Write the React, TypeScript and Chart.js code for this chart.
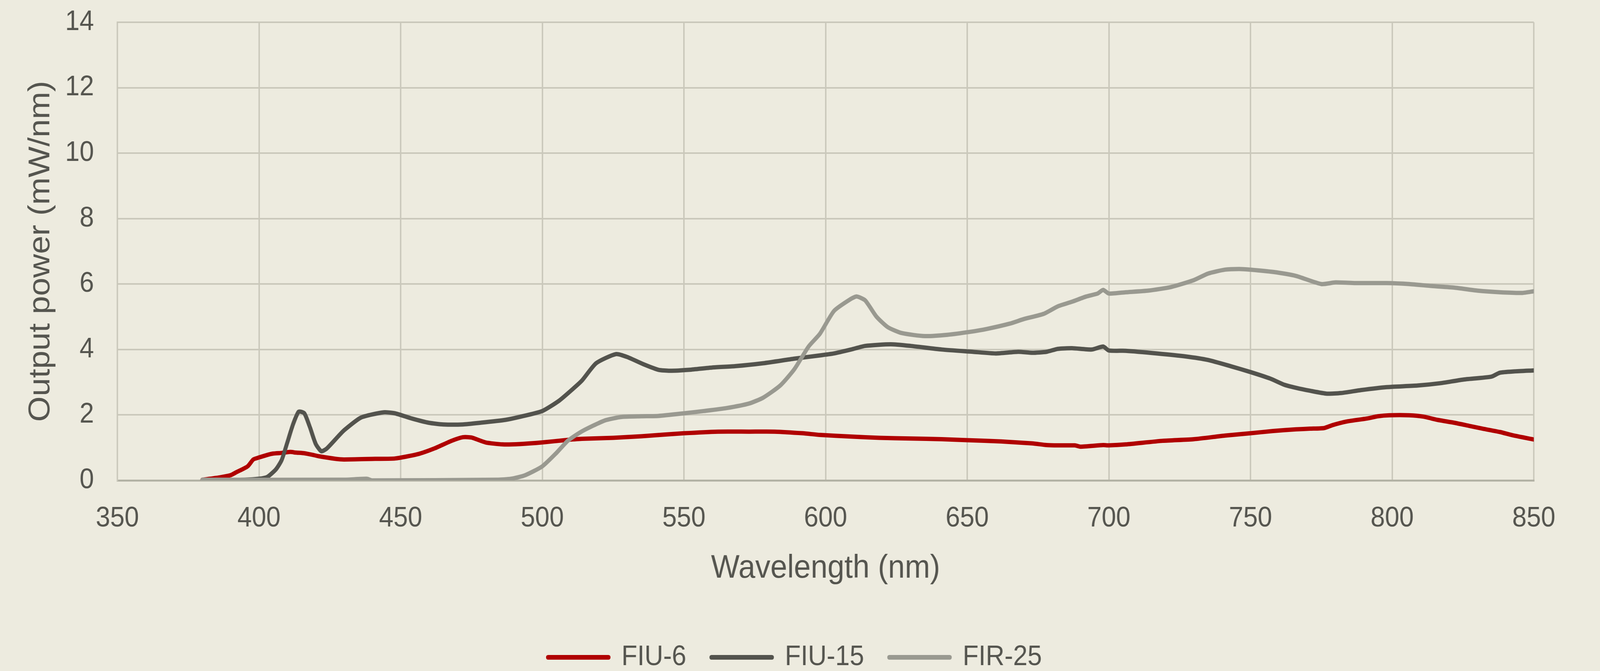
import React, { useEffect, useRef } from "react";
import { Chart, registerables } from "chart.js";

Chart.register(...registerables);

// Drawing surface in the reference's own pixel grid; shown stretched to the viewport.
const W = 4445;
const H = 1718;

const seriesNames = ["FIU-6", "FIU-15", "FIR-25"];
const seriesColors = ["#B00000", "#53534D", "#999990"];

const fiu6Wl = [380, 386, 390, 392, 396, 398, 400, 403, 405, 408, 411, 413, 416, 419, 421, 427, 430, 441, 448, 456, 462, 468, 472, 475, 480, 486, 492, 500, 508, 514, 525, 535, 550, 562, 573, 582, 592, 598, 609, 619, 630, 641, 650, 662, 673, 678, 682, 688, 690, 698, 700, 706, 719, 730, 741, 750, 758, 766, 771, 776, 779, 784, 791, 795, 799, 806, 811, 816, 822, 827, 832, 838, 843, 850];
const fiu6Val = [0.02, 0.09, 0.16, 0.25, 0.43, 0.64, 0.70, 0.78, 0.82, 0.84, 0.87, 0.85, 0.83, 0.78, 0.74, 0.66, 0.64, 0.66, 0.67, 0.80, 0.98, 1.21, 1.32, 1.31, 1.16, 1.10, 1.11, 1.16, 1.23, 1.27, 1.30, 1.35, 1.44, 1.49, 1.49, 1.49, 1.44, 1.39, 1.34, 1.30, 1.28, 1.26, 1.23, 1.19, 1.13, 1.08, 1.07, 1.07, 1.03, 1.08, 1.07, 1.10, 1.21, 1.26, 1.37, 1.44, 1.51, 1.56, 1.58, 1.60, 1.69, 1.80, 1.89, 1.96, 1.99, 1.99, 1.95, 1.85, 1.76, 1.67, 1.58, 1.48, 1.37, 1.25];

const fiu15Wl = [380, 395, 400, 403, 406, 408, 410, 412, 414, 416, 418, 420, 422, 424, 428, 430, 436, 444, 448, 454, 460, 465, 472, 478, 487, 492, 500, 506, 511, 514, 519, 526, 530, 536, 541, 545, 552, 560, 568, 578, 589, 598, 603, 609, 614, 623, 630, 641, 652, 660, 668, 673, 678, 682, 687, 694, 698, 700, 706, 717, 727, 735, 743, 750, 757, 762, 766, 771, 777, 782, 789, 798, 809, 817, 825, 835, 838, 843, 850];
const fiu15Val = [0.0, 0.02, 0.05, 0.11, 0.34, 0.62, 1.16, 1.71, 2.10, 2.05, 1.62, 1.12, 0.89, 0.98, 1.35, 1.53, 1.92, 2.08, 2.05, 1.89, 1.76, 1.71, 1.71, 1.76, 1.85, 1.94, 2.12, 2.44, 2.81, 3.05, 3.58, 3.86, 3.77, 3.54, 3.38, 3.35, 3.38, 3.45, 3.49, 3.58, 3.72, 3.82, 3.88, 4.00, 4.11, 4.16, 4.11, 4.00, 3.93, 3.88, 3.93, 3.90, 3.93, 4.02, 4.04, 4.00, 4.09, 3.97, 3.96, 3.88, 3.79, 3.68, 3.49, 3.31, 3.11, 2.92, 2.83, 2.74, 2.65, 2.67, 2.76, 2.85, 2.90, 2.97, 3.08, 3.17, 3.29, 3.33, 3.36];

const fir25Wl = [380, 430, 438, 440, 484, 489, 494, 500, 505, 509, 514, 522, 528, 535, 541, 550, 557, 565, 573, 578, 584, 589, 594, 598, 603, 609, 611, 614, 618, 622, 627, 635, 643, 651, 657, 665, 670, 677, 682, 687, 692, 696, 698, 700, 706, 714, 722, 730, 735, 741, 746, 750, 758, 766, 775, 780, 787, 798, 806, 814, 822, 830, 838, 846, 850];
const fir25Val = [0.02, 0.02, 0.05, 0.0, 0.02, 0.05, 0.16, 0.43, 0.84, 1.21, 1.50, 1.83, 1.94, 1.96, 1.97, 2.05, 2.12, 2.21, 2.35, 2.53, 2.90, 3.40, 4.09, 4.48, 5.18, 5.55, 5.62, 5.50, 5.00, 4.68, 4.50, 4.41, 4.45, 4.54, 4.63, 4.79, 4.93, 5.09, 5.32, 5.46, 5.62, 5.71, 5.82, 5.71, 5.75, 5.80, 5.91, 6.12, 6.32, 6.44, 6.46, 6.44, 6.37, 6.25, 6.00, 6.05, 6.03, 6.03, 6.00, 5.94, 5.89, 5.80, 5.75, 5.73, 5.78];

const xTitle = "Wavelength (nm)";
const yTitle = "Output power (mW/nm)";

const BG = "#EDEBDF";
const GRID = "#CAC8BB";
const AXIS = "#B3B2A5";
const TEXT = "#55554F";
const FONT = "'Liberation Sans', Arial, sans-serif";

const toPoints = (xs: number[], ys: number[]) => xs.map((x, i) => ({ x, y: ys[i] }));

const shiftLegend = {
  id: "shiftLegend",
  afterLayout(chart: any) {
    const l = chart.legend;
    if (l) {
      l.left += 78;
      l.right += 78;
    }
  },
};

export default function App() {
  const ref = useRef<HTMLCanvasElement | null>(null);
  const vw = typeof window !== "undefined" ? window.innerWidth : W;
  const vh = typeof window !== "undefined" ? window.innerHeight : H;

  useEffect(() => {
    document.body.style.margin = "0";
    document.body.style.background = BG;
    document.body.style.overflow = "hidden";
    const canvas = ref.current;
    if (!canvas) return;
    const xs = [fiu6Wl, fiu15Wl, fir25Wl];
    const ys = [fiu6Val, fiu15Val, fir25Val];
    const chart = new Chart(canvas, {
      type: "line",
      data: {
        datasets: seriesNames.map((name, i) => ({
          label: name,
          data: toPoints(xs[i], ys[i]),
          borderColor: seriesColors[i],
          backgroundColor: seriesColors[i],
          borderWidth: 11,
          borderJoinStyle: "round",
          borderCapStyle: "round",
          pointRadius: 0,
          tension: 0.2,
          fill: false,
          order: 3 - i,
        })),
      },
      plugins: [shiftLegend],
      options: {
        animation: false,
        responsive: false,
        devicePixelRatio: 1,
        layout: { padding: { top: 57, left: 0, right: 184, bottom: -11 } },
        plugins: {
          tooltip: { enabled: false },
          legend: {
            display: true,
            position: "bottom",
            labels: {
              boxWidth: 168,
              boxHeight: 1,
              padding: 70,
              color: TEXT,
              font: { family: FONT, size: 72, lineHeight: 1 },
              generateLabels: (ch: any) =>
                ch.data.datasets.map((ds: any, i: number) => ({
                  text: ds.label,
                  fillStyle: ds.borderColor,
                  strokeStyle: ds.borderColor,
                  lineWidth: 11,
                  lineJoin: "round",
                  hidden: false,
                  datasetIndex: i,
                  fontColor: TEXT,
                })),
            },
          },
        },
        scales: {
          x: {
            type: "linear",
            min: 350,
            max: 850,
            ticks: {
              stepSize: 50,
              color: TEXT,
              padding: 55,
              font: { family: FONT, size: 72 },
            },
            grid: { color: GRID, lineWidth: 4, drawTicks: false },
            border: { color: AXIS, width: 5 },
            title: {
              display: true,
              text: xTitle,
              color: TEXT,
              font: { family: FONT, size: 84 },
              padding: { top: 0, bottom: 71 },
            },
            afterFit: (scale: any) => {
              scale.height = 347;
            },
          },
          y: {
            min: 0,
            max: 14,
            ticks: {
              stepSize: 2,
              color: TEXT,
              padding: 8,
              font: { family: FONT, size: 72 },
            },
            grid: {
              color: GRID,
              lineWidth: 4,
              drawTicks: true,
              tickLength: 57,
              tickColor: "rgba(0,0,0,0)",
            },
            border: { color: GRID, width: 4 },
            title: {
              display: true,
              text: yTitle,
              color: TEXT,
              font: { family: FONT, size: 84 },
              padding: { top: 63, bottom: 0 },
            },
            afterFit: (scale: any) => {
              scale.width = 326;
            },
          },
        },
      },
    } as any);
    return () => chart.destroy();
  }, []);

  return (
    <div style={{ width: vw, height: vh, background: BG, overflow: "hidden" }}>
      <canvas
        ref={ref}
        width={W}
        height={H}
        style={{ display: "block", width: vw + "px", height: vh + "px" }}
      />
    </div>
  );
}
